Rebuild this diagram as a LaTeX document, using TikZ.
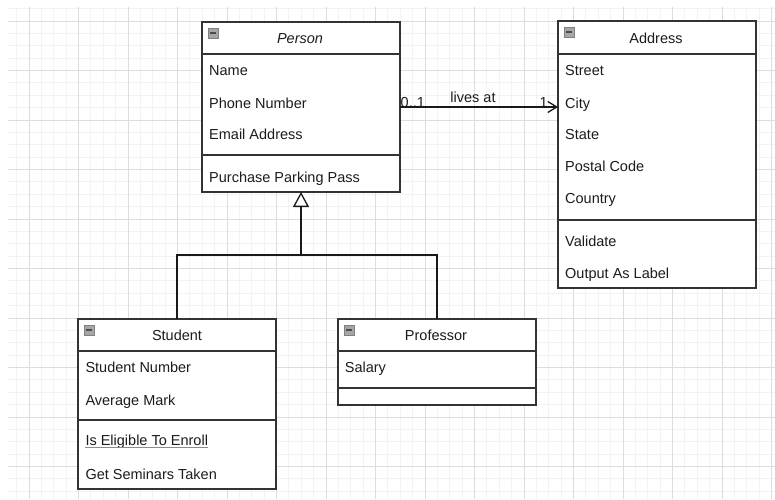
\documentclass[tikz,border=0pt]{standalone}
\usepackage{fontspec}
\setmainfont{Liberation Sans}
\usetikzlibrary{arrows.meta,calc}
\definecolor{gridminor}{HTML}{F3F3F3}
\definecolor{gridmajor}{HTML}{DDDDDD}
\definecolor{umlline}{HTML}{333333}
\definecolor{umltext}{HTML}{1C1C1C}
\begin{document}
\begin{tikzpicture}[x=1pt,y=-1pt,
  compart/.style={draw=umlline, line width=1.3pt, fill=white, anchor=north west,
    minimum width=198pt, inner sep=0pt, outer sep=0pt},
  item/.style={anchor=base west, inner sep=0pt, text=umltext, font=\fontsize{14.5}{17}\selectfont},
  title/.style={anchor=base, inner sep=0pt, text=umltext, font=\fontsize{14.5}{17}\selectfont},
  mini/.style={draw=black!50, fill=black!35, minimum size=10pt, inner sep=0pt, line width=0.6pt,
    path picture={\draw[black!70, line width=1.6pt]
      ([xshift=2pt]path picture bounding box.west) -- ([xshift=-2pt]path picture bounding box.east);}},
  conn/.style={draw=black!90, line width=1.3pt},
]
\useasboundingbox (0,0) rectangle (775,499);
\fill[white] (0,0) rectangle (775,499);
% grid
\begin{scope}
  \clip (8,7) rectangle (775,499);
  \foreach \i in {0,...,63} \draw[gridminor, line width=0.8pt] (4.25+\i*12.375,7) -- (4.25+\i*12.375,499);
  \foreach \i in {0,...,40} \draw[gridminor, line width=0.8pt] (8,8.625+\i*12.375) -- (775,8.625+\i*12.375);
  \foreach \k in {0,...,15} \draw[gridmajor, line width=0.8pt] (29+\k*49.5,7) -- (29+\k*49.5,499);
  \foreach \k in {0,...,9} \draw[gridmajor, line width=0.8pt] (8,21+\k*49.5) -- (775,21+\k*49.5);
\end{scope}

% Person
\node[compart, minimum height=32pt] (personH) at (202,22) {};
\node[compart, minimum height=101pt] (personA) at (personH.south west) {};
\node[compart, minimum height=37pt] (personM) at (personA.south west) {};
\node[mini] (personI) at ([xshift=11pt,yshift=-11pt]personH.north west) {};
\node[title, font=\fontsize{14.5}{17}\selectfont\itshape] (personT) at (300,43.3) {Person};
\node[item] (pName) at (209,75) {Name};
\node[item] (pPhone) at (209,108) {Phone Number};
\node[item] (pEmail) at (209,139.3) {Email Address};
\node[item] (pPark) at (209,182) {Purchase Parking Pass};

% Address
\node[compart, minimum height=33pt] (addressH) at (558,21) {};
\node[compart, minimum height=166pt] (addressA) at (addressH.south west) {};
\node[compart, minimum height=68pt] (addressM) at (addressA.south west) {};
\node[mini] (addressI) at ([xshift=11pt,yshift=-11pt]addressH.north west) {};
\node[title] (addressT) at (656,43.3) {Address};
\node[item] (aStreet) at (565,75) {Street};
\node[item] (aCity) at (565,108) {City};
\node[item] (aState) at (565,139.3) {State};
\node[item] (aPostal) at (565,171.7) {Postal Code};
\node[item] (aCountry) at (565,203.7) {Country};
\node[item] (aValid) at (565,246) {Validate};
\node[item] (aLabel) at (565,278.3) {Output As Label};

% Student
\node[compart, minimum height=32pt] (studentH) at (78,319) {};
\node[compart, minimum height=69pt] (studentA) at (studentH.south west) {};
\node[compart, minimum height=69pt] (studentM) at (studentA.south west) {};
\node[mini] (studentI) at ([xshift=11pt,yshift=-11pt]studentH.north west) {};
\node[title] (studentT) at (177,340.7) {Student};
\node[item] (sNum) at (85.3,372.3) {Student Number};
\node[item] (sMark) at (85.3,405) {Average Mark};
\node[item] (sEnroll) at (85.3,445.5) {Is Eligible To Enroll};
\draw[black!45, line width=1.4pt] ([yshift=-1.8pt]sEnroll.base west) -- ([yshift=-1.8pt]sEnroll.base east);
\node[item] (sSem) at (85.3,479) {Get Seminars Taken};

% Professor
\node[compart, minimum height=32pt] (profH) at (338,319) {};
\node[compart, minimum height=37pt] (profA) at (profH.south west) {};
\node[compart, minimum height=17pt] (profM) at (profA.south west) {};
\node[mini] (profI) at ([xshift=11pt,yshift=-11pt]profH.north west) {};
\node[title] (profT) at (436,340.7) {Professor};
\node[item] (prSalary) at (344.7,372.3) {Salary};

% Generalization
\coordinate (gj) at (301,255);
\draw[conn] (studentH.north) |- (gj) -| (profH.north);
\draw[conn, -{Triangle[fill=white,length=15pt,width=16pt,line width=1.3pt]}] (gj) -- (personM.south);

% Association
\coordinate (asS) at ([yshift=-2.5pt]personA.east);
\coordinate (asE) at (asS -| addressA.west);
\draw[conn, -{Straight Barb[length=9pt,width=11pt,line width=1.3pt]}] (asS) -- (asE);
\node[title, anchor=base west] (mult0) at (400.5,107) {0..1};
\node[title] (livesat) at (473,102) {lives at};
\node[title, anchor=base east] (mult1) at (548,107) {1};
\end{tikzpicture}
\end{document}
